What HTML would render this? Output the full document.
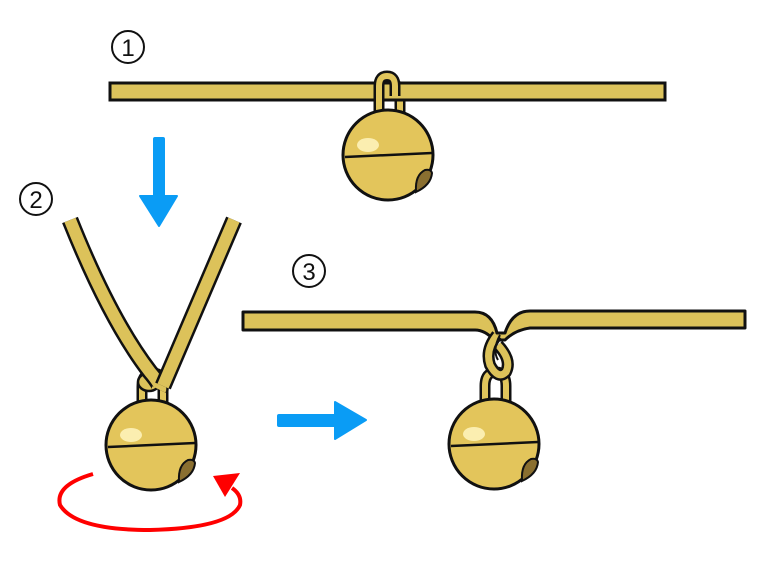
<!DOCTYPE html>
<html><head><meta charset="utf-8"><style>
html,body{margin:0;padding:0;background:#fff;}
svg{display:block;}
text{font-family:"Liberation Sans","DejaVu Sans",sans-serif;}
</style></head><body>
<svg width="774" height="581" viewBox="0 0 774 581" xmlns="http://www.w3.org/2000/svg">
<defs>
<g id="bell">
  <path d="M-9,-38 L-9,-58 Q-9,-72 2,-72 Q12,-72 12,-58 L12,-38" fill="none" stroke="#111" stroke-width="11"/>
  <path d="M-9,-38 L-9,-58 Q-9,-72 2,-72 Q12,-72 12,-58 L12,-38" fill="none" stroke="#e0c55c" stroke-width="6"/>
  <circle cx="0" cy="0" r="45" fill="#e3c55b" stroke="#111" stroke-width="3"/>
  <path d="M-43,2 Q0,0 44,-2" fill="none" stroke="#111" stroke-width="2.5"/>
  <ellipse cx="-20" cy="-10" rx="11" ry="7" fill="#fbeeb0"/>
  <path d="M28,36 Q27,20 37,15 Q43,14 44,18 Q43,30 28,37 Z" fill="#8a6f30" stroke="#111" stroke-width="2"/>
</g>
</defs>

<circle cx="128" cy="47" r="16" fill="none" stroke="#111" stroke-width="2"/>
<text x="128" y="56" font-size="24" text-anchor="middle" fill="#111">1</text>
<circle cx="36" cy="199" r="16" fill="none" stroke="#111" stroke-width="2"/>
<text x="36" y="208" font-size="24" text-anchor="middle" fill="#111">2</text>
<circle cx="309" cy="271" r="16" fill="none" stroke="#111" stroke-width="2"/>
<text x="309" y="280" font-size="24" text-anchor="middle" fill="#111">3</text>

<g transform="translate(388,155)">
  <use href="#bell"/>
</g>
<rect x="110" y="83" width="555" height="17" fill="#dcc35c" stroke="#111" stroke-width="3"/>
<path d="M379,102 L379,86 Q379,76 387,76 Q395,76 395,86 L395,96" fill="none" stroke="#111" stroke-width="11"/>
<path d="M379,102 L379,86 Q379,76 387,76 Q395,76 395,86 L395,96" fill="none" stroke="#e0c55c" stroke-width="6"/>

<rect x="153" y="137" width="12" height="62" rx="2" fill="#0a9cf5"/>
<path d="M140,196 L177,196 L159,226 Z" fill="#0a9cf5" stroke="#0a9cf5" stroke-width="2" stroke-linejoin="round"/>
<rect x="277" y="414" width="62" height="13" rx="2" fill="#0a9cf5"/>
<path d="M335,402 L366,420 L335,439 Z" fill="#0a9cf5" stroke="#0a9cf5" stroke-width="2" stroke-linejoin="round"/>

<g transform="translate(151,445)">
  <use href="#bell"/>
</g>
<ellipse cx="149" cy="382" rx="11" ry="9" fill="#dcc25a" stroke="#111" stroke-width="2.5"/>
<path d="M70,220 Q110,320 150,372 Q162,386 160,390" fill="none" stroke="#111" stroke-width="17"/>
<path d="M70,220 Q110,320 150,372 Q162,386 160,390" fill="none" stroke="#dcc25a" stroke-width="12"/>
<path d="M234,220 L163,386" fill="none" stroke="#111" stroke-width="17"/>
<path d="M234,220 L163,386" fill="none" stroke="#dcc25a" stroke-width="12"/>

<path d="M93,474 Q55,485 60,505 Q75,530 150,530 Q230,528 240,505 Q242,495 232,488" fill="none" stroke="#f00" stroke-width="4"/>
<path d="M213,476 L240,473 L225,497 Z" fill="#f00"/>

<g transform="translate(494,444)">
  <use href="#bell"/>
</g>
<path d="M243,312 L475,312 Q492,312 497,333 L505,333 Q512,311 530,311 L745,311 L745,328 L530,328 Q515,330 505,340 L494,340 Q485,330 475,330 L243,330 Z" fill="#dcc25a" stroke="#111" stroke-width="3" stroke-linejoin="round"/>
<path d="M497,335 Q485,350 490,365 Q498,380 506,372 Q512,360 498,345" fill="none" stroke="#111" stroke-width="12"/>
<path d="M497,335 Q485,350 490,365 Q498,380 506,372 Q512,360 498,345" fill="none" stroke="#dcc25a" stroke-width="7"/>
<path d="M500,335 Q492,350 498,360" fill="none" stroke="#111" stroke-width="2"/>
</svg>
</body></html>
